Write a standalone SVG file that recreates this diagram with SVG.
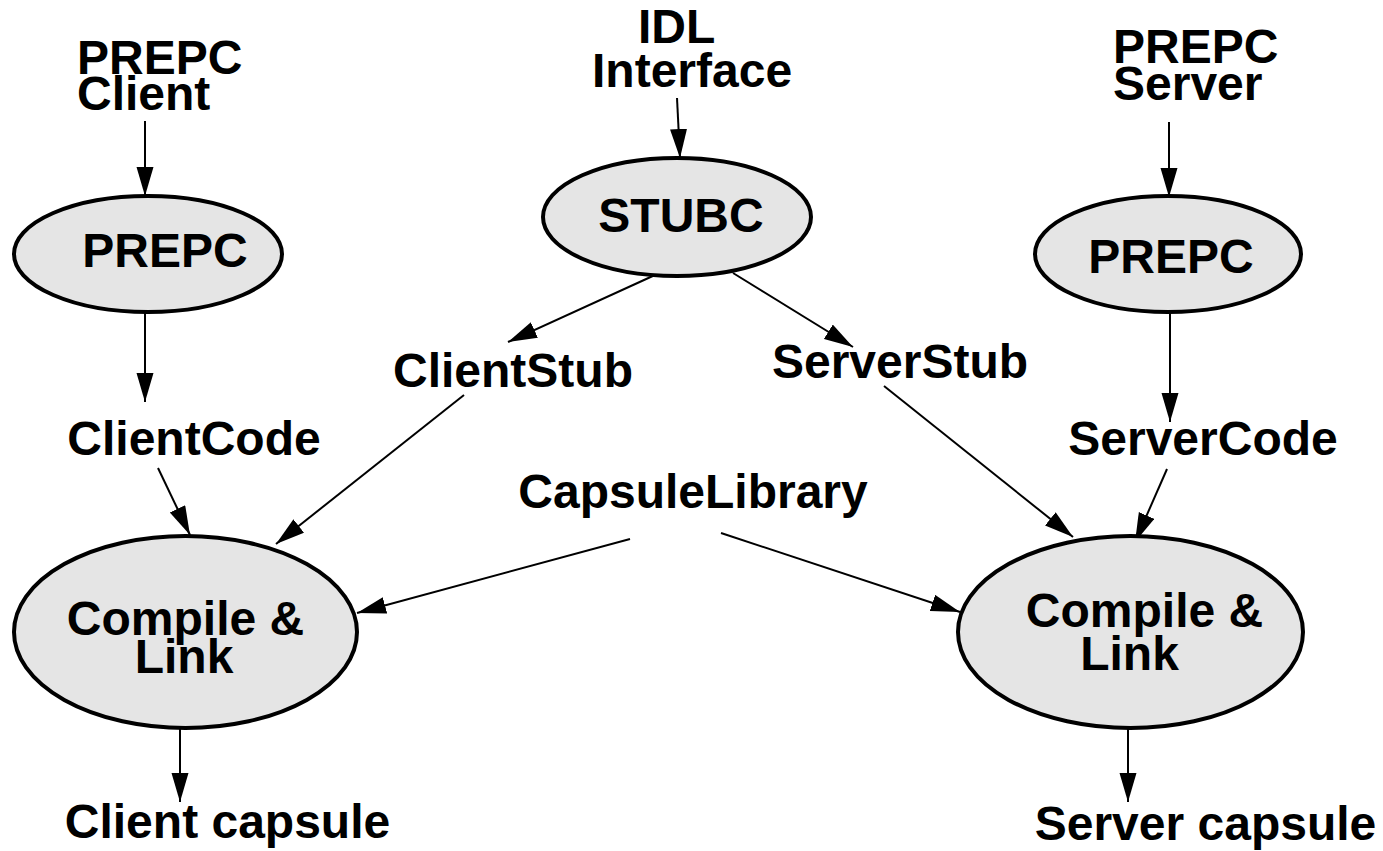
<svg xmlns="http://www.w3.org/2000/svg" width="1383" height="851" viewBox="0 0 1383 851">
<style>
text{font-family:"Liberation Sans",Arial,sans-serif;font-weight:bold;font-size:48px;fill:#000}
.node{fill:#e5e5e5;stroke:#000;stroke-width:4}
.edge{stroke:#000;stroke-width:2;fill:none;marker-end:url(#arr)}
</style>
<defs>
<marker id="arr" markerUnits="userSpaceOnUse" markerWidth="30" markerHeight="18" refX="29" refY="8.5" orient="auto">
<path d="M0,0 L29,8.5 L0,17 z" fill="#000"/>
</marker>
</defs>
<rect width="1383" height="851" fill="#fff"/>
<g id="connectors">
<line class="edge" x1="145" y1="121" x2="145" y2="196"/>
<line class="edge" x1="145" y1="312" x2="145" y2="402"/>
<line class="edge" x1="677" y1="98" x2="680" y2="158"/>
<line class="edge" x1="655" y1="275" x2="508" y2="342"/>
<line class="edge" x1="733" y1="273" x2="853" y2="347"/>
<line class="edge" x1="1169" y1="122" x2="1169" y2="197"/>
<line class="edge" x1="1170" y1="312" x2="1170" y2="422"/>
<line class="edge" x1="158" y1="468" x2="190" y2="535"/>
<line class="edge" x1="464" y1="395" x2="276" y2="544"/>
<line class="edge" x1="630" y1="539" x2="357" y2="613"/>
<line class="edge" x1="721" y1="533" x2="960" y2="612"/>
<line class="edge" x1="884" y1="386" x2="1073" y2="537"/>
<line class="edge" x1="1167" y1="469" x2="1135" y2="542"/>
<line class="edge" x1="180" y1="728" x2="180" y2="802"/>
<line class="edge" x1="1128" y1="728" x2="1128" y2="802"/>
</g>
<g id="label-prepc-client"><text x="77" y="74">PREPC</text><text x="77" y="110">Client</text></g>
<g id="label-idl"><text x="638" y="43">IDL</text><text x="592" y="87">Interface</text></g>
<g id="label-prepc-server"><text x="1113" y="63">PREPC</text><text x="1113" y="100">Server</text></g>
<g id="node-prepc-left"><ellipse class="node" cx="148" cy="254" rx="134" ry="58"/><text x="165" y="267" text-anchor="middle">PREPC</text></g>
<g id="node-stubc"><ellipse class="node" cx="677" cy="217" rx="134" ry="59"/><text x="681" y="232" text-anchor="middle">STUBC</text></g>
<g id="node-prepc-right"><ellipse class="node" cx="1168" cy="254" rx="133" ry="58"/><text x="1171" y="273" text-anchor="middle">PREPC</text></g>
<g id="label-clientstub"><text x="513" y="387" text-anchor="middle">ClientStub</text></g>
<g id="label-serverstub"><text x="900" y="378" text-anchor="middle">ServerStub</text></g>
<g id="label-clientcode"><text x="194" y="455" text-anchor="middle">ClientCode</text></g>
<g id="label-servercode"><text x="1203" y="455" text-anchor="middle">ServerCode</text></g>
<g id="label-capsulelibrary"><text x="693" y="508" text-anchor="middle">CapsuleLibrary</text></g>
<g id="node-compile-left"><ellipse class="node" cx="185.5" cy="632" rx="171.5" ry="96"/><text x="185.5" y="635" text-anchor="middle">Compile &amp;</text><text x="184" y="673" text-anchor="middle">Link</text></g>
<g id="node-compile-right"><ellipse class="node" cx="1130.5" cy="632" rx="172.5" ry="96"/><text x="1144.5" y="627" text-anchor="middle">Compile &amp;</text><text x="1129.5" y="670" text-anchor="middle">Link</text></g>
<g id="label-client-capsule"><text x="227.5" y="838" text-anchor="middle">Client capsule</text></g>
<g id="label-server-capsule"><text x="1205.5" y="840" text-anchor="middle">Server capsule</text></g>
</svg>
